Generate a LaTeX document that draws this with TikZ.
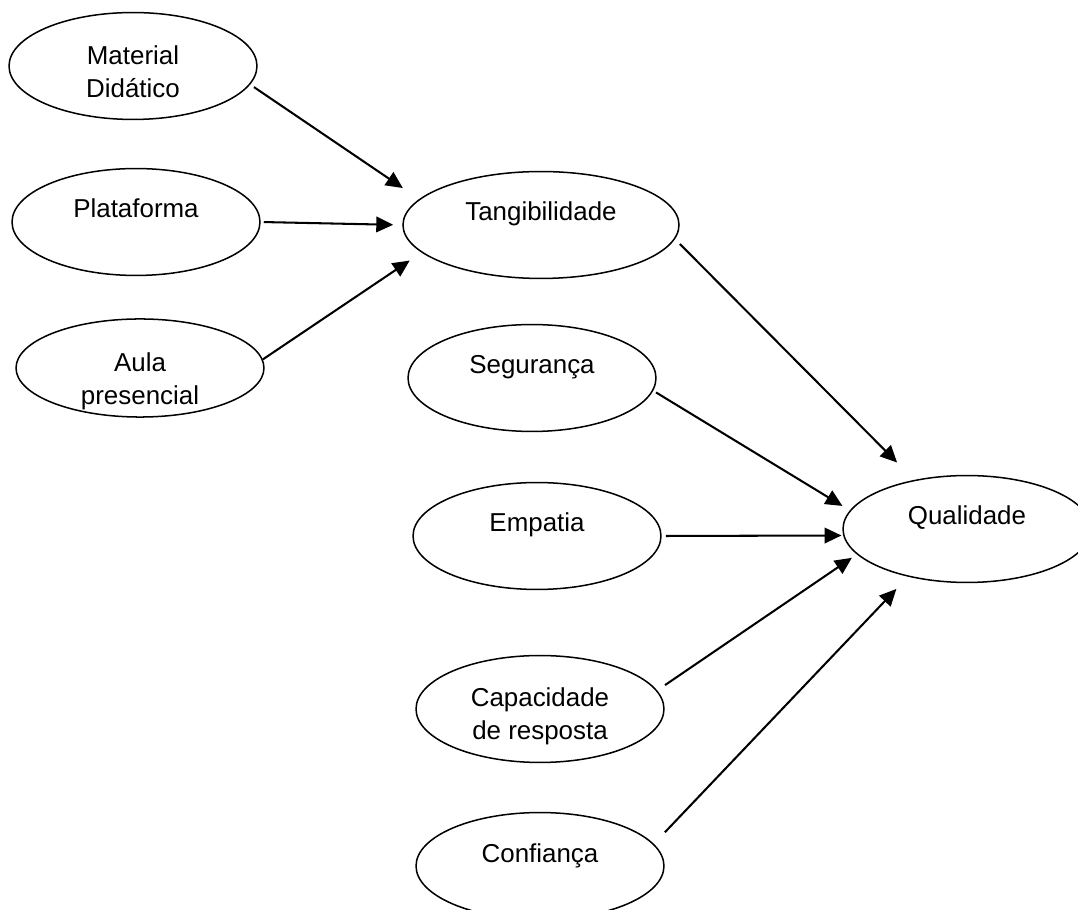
\documentclass[tikz,border=0pt]{standalone}
\usepackage{fontspec}
\setmainfont{Liberation Sans}
\usepackage{tikz}
\usetikzlibrary{shapes.geometric, arrows.meta}

% two centred lines, lowered inside the node
\newcommand{\twolines}[3]{\raisebox{#1}[\height][\depth]{\begin{tabular}{@{}c@{}}#2\\#3\end{tabular}}}

\begin{document}
\begin{tikzpicture}[x=0.463pt, y=-0.463pt,
  elbox/.style={ellipse, draw=black, line width=0.7pt, minimum width=114.8pt, minimum height=49.5pt, align=center, font=\fontsize{12}{15.3}\selectfont},
  onel/.style={text height=8pt, text depth=11.7pt},
  twol/.style={inner sep=0.5pt},
  arr/.style={-{Triangle[length=7.8pt, width=7.2pt]}, line width=0.95pt}
]
\useasboundingbox (0,0) rectangle (1078,910);

%% Inputs of tangibility
\node[elbox, twol] (mat) at (133,66) {\twolines{-3.75pt}{Material}{Didático}};
\node[elbox, onel] (plat) at (136,222) {Plataforma};
\node[elbox, twol, minimum height=45.4pt] (aula) at (140,368) {\twolines{-6.1pt}{Aula}{presencial}};

%% Dimensions
\node[elbox, onel, minimum width=127.8pt] (tang) at (541,225) {Tangibilidade};
\node[elbox, onel] (seg) at (532,378) {Segurança};
\node[elbox, onel] (emp) at (537,536) {Empatia};
\node[elbox, twol] (cap) at (540,709) {\twolines{-3.55pt}{Capacidade}{de resposta}};
\node[elbox, onel] (conf) at (540,866) {Confiança};

%% Result
\node[elbox, onel] (qual) at (967,529) {Qualidade};

%% Arrows to Tangibilidade
\draw[arr, shorten <=2.1pt, shorten >=9.1pt] (mat.-9.6) -- (tang.168.4);
\draw[arr, shorten <=1.4pt, shorten >=4.2pt] (plat.east) -- (tang.west);
\draw[arr, shorten >=6.6pt] (aula.4) -- (tang.-167.8);

%% Arrows to Qualidade
\draw[arr, shorten <=3.2pt, shorten >=11.3pt] (tang.-6) -- (qual.137.8);
\draw[arr, shorten <=1.5pt, shorten >=4pt] (seg.-6.3) -- (qual.171.3);
\draw[arr, shorten <=1.9pt, shorten >=0.8pt] (emp.east) -- (qual.183.7);
\draw[arr, shorten <=4.4pt, shorten >=2.8pt] (cap.9.7) -- (qual.193.5);
\draw[arr, shorten <=7.4pt, shorten >=7.8pt] (conf.11.1) -- (qual.219.8);

\end{tikzpicture}
\end{document}
